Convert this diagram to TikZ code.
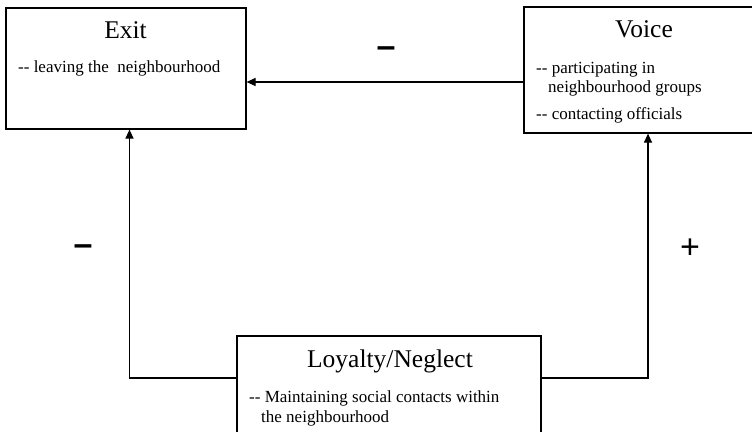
\documentclass[tikz,border=0pt]{standalone}
\usepackage{fontspec}
\setmainfont{Liberation Serif}
\newfontfamily\signfont{Liberation Sans}
\usetikzlibrary{arrows.meta}
\begin{document}
\begin{tikzpicture}[x=1pt,y=-1pt,
  box/.style={draw=black,line width=1.2pt,rectangle,inner sep=0pt},
  arr/.style={draw=black,line width=1.2pt,-{Triangle[length=9pt,width=8pt]}},
  title/.style={anchor=base,inner sep=0pt,font=\fontsize{25.5}{28}\selectfont},
  body/.style={anchor=base west,inner sep=0pt,font=\fontsize{17}{20}\selectfont},
  sign/.style={inner sep=0pt,font=\signfont\fontsize{34}{34}\selectfont}]
\useasboundingbox (0,0) rectangle (752,431);
\clip (0,0) rectangle (752,431);
% boxes
\node[box,minimum width=240pt,minimum height=121pt] (exit) at (126,68.5) {};
\node[box,minimum width=248pt,minimum height=126pt] (voice) at (648,70) {};
\node[box,minimum width=304pt,minimum height=104pt] (loyalty) at (389,388) {};
% texts
\node[title] (exitT) at (125.5,38) {Exit};
\node[body] (exitB) at (18,72) {-{}- leaving the\ \ neighbourhood};
\node[title] (voiceT) at (644,37) {Voice};
\node[body] (voiceB1) at (536,73) {-{}- participating in};
\node[body] (voiceB2) at (548,92) {neighbourhood groups};
\node[body] (voiceB3) at (536,119) {-{}- contacting officials};
\node[title] (loyT) at (390,367) {Loyalty/Neglect};
\node[body] (loyB1) at (249,402) {-{}- Maintaining social contacts within};
\node[body] (loyB2) at (261,422) {the neighbourhood};
% connectors
\draw[arr] ([yshift=-12pt]voice.west) coordinate (vw) -- (exit.east |- vw);
\draw[arr] ([yshift=10pt]loyalty.west) -| ([xshift=3.5pt]exit.south);
\draw[arr] ([yshift=10pt]loyalty.east) -| (voice.south);
% signs
\node[sign] (s1) at (386,52) {\bfseries –};
\node[sign] (s2) at (83,250) {\bfseries –};
\node[sign] (s3) at (690,249) {+};
\end{tikzpicture}
\end{document}
